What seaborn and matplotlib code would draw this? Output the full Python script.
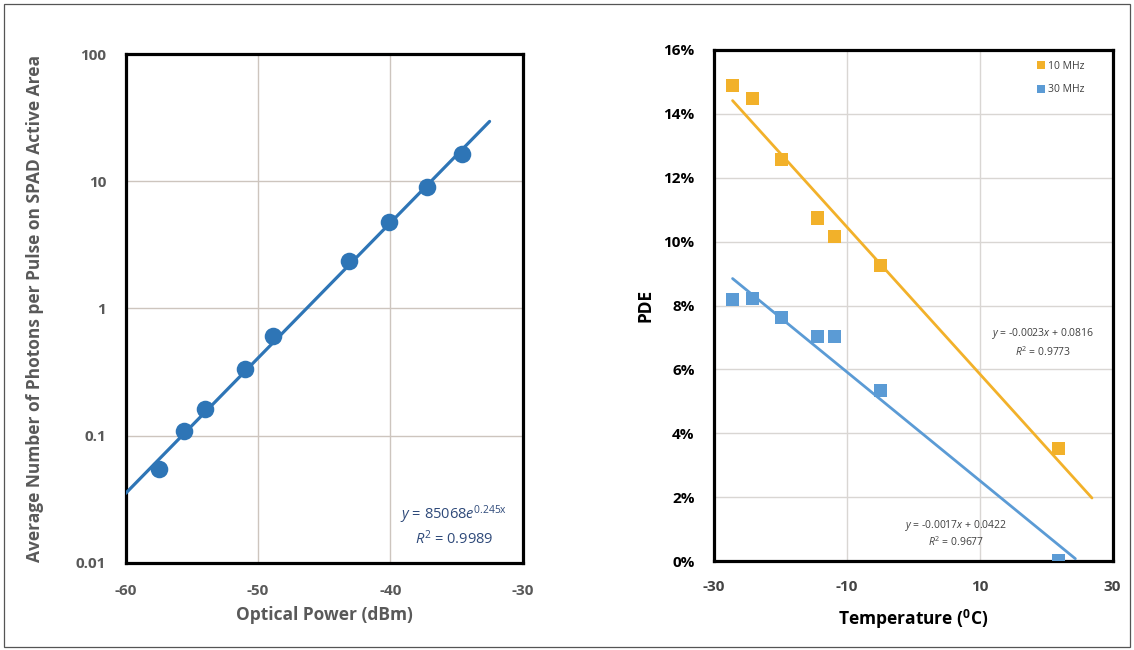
import numpy as np
import pandas as pd
import matplotlib
matplotlib.use("Agg")
import matplotlib.pyplot as plt
import seaborn as sns
from matplotlib.ticker import FixedLocator, FuncFormatter, MultipleLocator, LogLocator, NullFormatter
from matplotlib.patches import Rectangle

# ---------------- data ----------------
# Left panel: photons per pulse vs optical power
power_dbm = [-57.5, -55.6, -54.0, -51.0, -48.9, -43.1, -40.1, -37.2, -34.6]
photons = [0.055, 0.109, 0.162, 0.333, 0.61, 2.37, 4.75, 9.1, 16.3]
exp_a = 85068.0          # y = a * exp(b x)
exp_b = 0.245
exp_r2 = 0.9989
trend_left_range = [-60.0, -32.5]

# Right panel: PDE vs temperature
temperature = [-27.2, -24.2, -19.8, -14.4, -11.9, -4.9, 21.9]
pde_10mhz = [0.149, 0.1447, 0.1256, 0.1074, 0.1016, 0.0925, 0.0353]
pde_30mhz = [0.0818, 0.0821, 0.0762, 0.0704, 0.0704, 0.0535, 0.0000]
series_names = ["10 MHz", "30 MHz"]
lin_slope = [-0.0023, -0.0017]
lin_icpt = [0.0816, 0.0422]
lin_r2 = [0.9773, 0.9677]
trend_right_end = [26.9, 24.4]

x_ticks_left = [-60, -50, -40, -30]
y_ticks_left = [0.01, 0.1, 1, 10, 100]
y_ticklabels_left = ["0.01", "0.1", "1", "10", "100"]
x_ticks_right = [-30, -10, 10, 30]
y_ticks_right = [0, 0.02, 0.04, 0.06, 0.08, 0.10, 0.12, 0.14, 0.16]

# ---------------- style ----------------
sns.set_style("white")
plt.rcParams["font.family"] = ["Open Sans", "DejaVu Sans"]
plt.rcParams["mathtext.fontset"] = "custom"
plt.rcParams["mathtext.rm"] = "Open Sans"
plt.rcParams["mathtext.it"] = "Open Sans:italic"
plt.rcParams["mathtext.bf"] = "Open Sans:bold"

BLUE_L = "#2E75B6"
ORANGE = "#F2B12A"
BLUE_R = "#5B9BD5"
GRAY_TXT = "#595959"
GRID_L = "#CDC5BE"
GRID_R = "#D9D6D3"

fig = plt.figure(figsize=(11.34, 6.5), dpi=100)
fig.patch.set_facecolor("white")
fig.patches.append(Rectangle((4 / 1134, 3 / 650), 1126 / 1134, 643 / 650,
                             transform=fig.transFigure, fill=False,
                             edgecolor="#555555", linewidth=0.9, zorder=0))

# ---------------- left panel ----------------
axL = fig.add_axes([0.1108, 0.1343, 0.3501, 0.7822])
dfL = pd.DataFrame({"power": power_dbm, "photons": photons})
xfit = np.linspace(trend_left_range[0], trend_left_range[1], 200)
dfFit = pd.DataFrame({"power": xfit, "photons": exp_a * np.exp(exp_b * xfit)})
sns.lineplot(data=dfFit, x="power", y="photons", ax=axL, color=BLUE_L, linewidth=2.3, zorder=3)
sns.scatterplot(data=dfL, x="power", y="photons", ax=axL, color=BLUE_L, s=160,
                linewidth=0, zorder=4)
axL.set_yscale("log")
axL.set_xlim(-60, -30)
axL.set_ylim(0.01, 100)
axL.xaxis.set_major_locator(FixedLocator(x_ticks_left))
axL.xaxis.set_minor_locator(MultipleLocator(2))
axL.yaxis.set_major_locator(FixedLocator(y_ticks_left))
axL.yaxis.set_major_formatter(FuncFormatter(lambda v, p: y_ticklabels_left[y_ticks_left.index(v)] if v in y_ticks_left else ""))
axL.yaxis.set_minor_locator(LogLocator(base=10, subs=np.arange(2, 10)))
axL.yaxis.set_minor_formatter(NullFormatter())
axL.set_xticklabels([str(v) for v in x_ticks_left])
axL.grid(True, which="major", color=GRID_L, linewidth=1.0)
axL.set_axisbelow(True)
for s in axL.spines.values():
    s.set_color("black")
    s.set_linewidth(2.3)
axL.tick_params(axis="both", which="both", direction="in", color="black")
axL.tick_params(axis="x", which="major", length=4, width=1.5, pad=15, labelsize=11, labelcolor=GRAY_TXT)
axL.tick_params(axis="x", which="minor", length=4, width=1.5)
axL.tick_params(axis="y", which="major", length=4, width=1.5, pad=14, labelsize=11, labelcolor=GRAY_TXT)
axL.tick_params(axis="y", which="minor", length=4, width=1.2)
for lab in axL.get_xticklabels() + axL.get_yticklabels():
    lab.set_fontweight("bold")
axL.set_xlabel("Optical Power (dBm)", fontsize=12.5, fontweight="bold", color=GRAY_TXT)
axL.set_ylabel("Average Number of Photons per Pulse on SPAD Active Area", fontsize=12.5,
               fontweight="bold", color=GRAY_TXT)
axL.xaxis.set_label_coords(0.5, -0.085)
axL.yaxis.set_label_coords(-0.205, 0.5)
axL.text(0.827, 0.094, r"$y$ = 85068$e^{\mathrm{0.245x}}$", transform=axL.transAxes,
         ha="center", va="center", fontsize=10.5, color="#2F4A7A")
axL.text(0.827, 0.047, r"$R^2$ = %.4f" % exp_r2, transform=axL.transAxes,
         ha="center", va="center", fontsize=10.5, color="#2F4A7A")

# ---------------- right panel ----------------
axR = fig.add_axes([0.6296, 0.1369, 0.3515, 0.7862])
dfR = pd.DataFrame({
    "temperature": temperature * 2,
    "pde": pde_10mhz + pde_30mhz,
    "series": [series_names[0]] * len(temperature) + [series_names[1]] * len(temperature),
})
palette = {series_names[0]: ORANGE, series_names[1]: BLUE_R}
for i, name in enumerate(series_names):
    xt = np.linspace(min(temperature), trend_right_end[i], 100)
    dft = pd.DataFrame({"temperature": xt, "pde": lin_slope[i] * xt + lin_icpt[i]})
    sns.lineplot(data=dft, x="temperature", y="pde", ax=axR, color=palette[name],
                 linewidth=2.0, zorder=3, legend=False)
sns.scatterplot(data=dfR, x="temperature", y="pde", hue="series", palette=palette,
                marker="s", s=90, linewidth=0, ax=axR, zorder=4)
axR.set_xlim(-30, 30)
axR.set_ylim(0, 0.16)
axR.xaxis.set_major_locator(FixedLocator(x_ticks_right))
axR.yaxis.set_major_locator(FixedLocator(y_ticks_right))
axR.xaxis.set_major_formatter(FuncFormatter(lambda v, p: "%d" % v))
axR.yaxis.set_major_formatter(FuncFormatter(lambda v, p: "%d%%" % round(v * 100)))
axR.grid(True, which="major", color=GRID_R, linewidth=1.0)
axR.set_axisbelow(True)
for s in axR.spines.values():
    s.set_color("black")
    s.set_linewidth(2.3)
axR.tick_params(axis="both", which="major", direction="in", length=4, width=2, color="black")
axR.tick_params(axis="x", pad=14, labelsize=11, labelcolor="#444444")
axR.tick_params(axis="y", pad=14, labelsize=11, labelcolor="black")
for lab in axR.get_xticklabels() + axR.get_yticklabels():
    lab.set_fontweight("bold")
axR.set_xlabel(r"Temperature ($^{\mathbf{0}}$C)", fontsize=12.5, fontweight="bold", color="black")
axR.set_ylabel("PDE", fontsize=12.5, fontweight="bold", color="black")
axR.xaxis.set_label_coords(0.5, -0.092)
axR.yaxis.set_label_coords(-0.15, 0.5)

leg = axR.legend(loc="upper left", bbox_to_anchor=(0.785, 0.995), frameon=False,
                 fontsize=7.5, handletextpad=0.0, labelspacing=1.2, markerscale=0.55,
                 borderpad=0.3, handlelength=1.2)
for t in leg.get_texts():
    t.set_color("#404040")

ann_pos = [(0.825, 0.446, 0.409), (0.607, 0.070, 0.037)]
for i in range(2):
    xa, y1, y2 = ann_pos[i]
    axR.text(xa, y1, r"$y$ = %.4f$x$ + %.4f" % (lin_slope[i], lin_icpt[i]),
             transform=axR.transAxes, ha="center", va="center", fontsize=7.5, color="#404040")
    axR.text(xa, y2, r"$R^2$ = %.4f" % lin_r2[i],
             transform=axR.transAxes, ha="center", va="center", fontsize=7.5, color="#404040")

fig.savefig("out.png", dpi=100, facecolor="white")
